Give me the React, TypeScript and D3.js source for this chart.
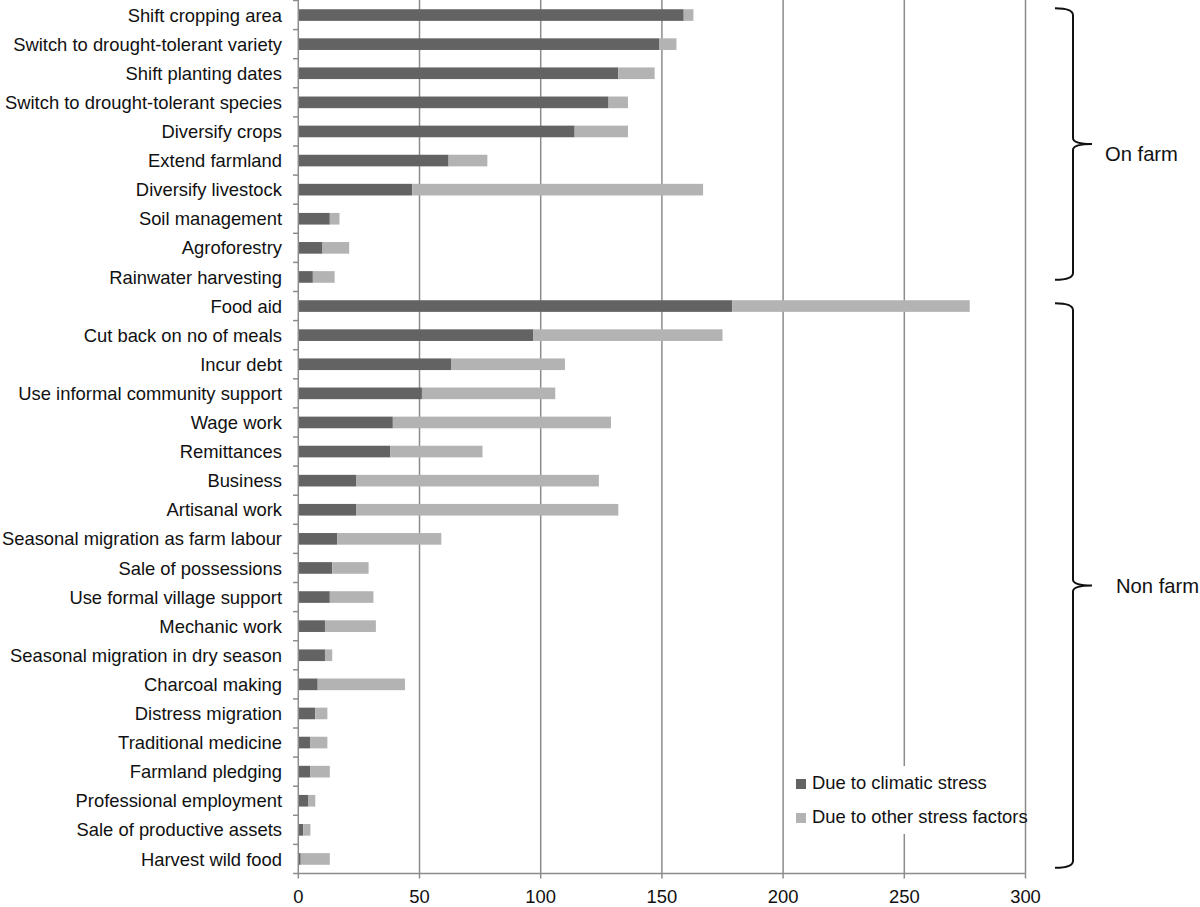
import React from "react";
import * as d3 from "d3";

const categories = [
  "Shift cropping area",
  "Switch to drought-tolerant variety",
  "Shift planting dates",
  "Switch to drought-tolerant species",
  "Diversify crops",
  "Extend farmland",
  "Diversify livestock",
  "Soil management",
  "Agroforestry",
  "Rainwater harvesting",
  "Food aid",
  "Cut back on no of meals",
  "Incur debt",
  "Use informal community support",
  "Wage work",
  "Remittances",
  "Business",
  "Artisanal work",
  "Seasonal migration as farm labour",
  "Sale of possessions",
  "Use formal village support",
  "Mechanic work",
  "Seasonal migration in dry season",
  "Charcoal making",
  "Distress migration",
  "Traditional medicine",
  "Farmland pledging",
  "Professional employment",
  "Sale of productive assets",
  "Harvest wild food",
];

const climatic = [159, 149, 132, 128, 114, 62, 47, 13, 10, 6, 179, 97, 63, 51, 39, 38, 24, 24, 16, 14, 13, 11, 11, 8, 7, 5, 5, 4, 2, 1];
const other = [4, 7, 15, 8, 22, 16, 120, 4, 11, 9, 98, 78, 47, 55, 90, 38, 100, 108, 43, 15, 18, 21, 3, 36, 5, 7, 8, 3, 3, 12];

const xTicks = [0, 50, 100, 150, 200, 250, 300];
const seriesNames = ["Due to climatic stress", "Due to other stress factors"];
const seriesColors = ["#636363", "#b3b3b3"];

const groups = [
  { label: "On farm", from: 0, to: 9 },
  { label: "Non farm", from: 10, to: 29 },
];

const FONT = "'Liberation Sans', Arial, Helvetica, sans-serif";
const FS = 18.4;

export default function App() {
  const x = d3.scaleLinear().domain([0, 300]).range([298.3, 1025.5]);
  const y = d3
    .scaleBand<string>()
    .domain(categories)
    .range([0.5, 873.5])
    .paddingInner(0.6)
    .paddingOuter(0.3);

  const rows = categories.map((c, i) => ({ cat: c, climatic: climatic[i], other: other[i] }));
  const stacked = d3.stack<any>().keys(["climatic", "other"])(rows);

  const step = y.step();
  const y0 = 0.5;
  const axisY = 873.5;
  const gridColor = "#8c8c8c";

  const bracePath = (ya: number, yb: number) => {
    const x0 = 1055;
    const xv = 1073;
    const xt = 1092;
    const ym = (ya + yb) / 2;
    return `M${x0},${ya} Q${xv},${ya} ${xv},${ya + 7} L${xv},${ym - 6} Q${xv},${ym} ${xt},${ym} Q${xv},${ym} ${xv},${ym + 6} L${xv},${yb - 7} Q${xv},${yb} ${x0},${yb}`;
  };

  // brace extents, based on the first and last bar of each group
  const braceOffsets = [
    [-1, -3],
    [3, 3],
  ];
  const braceY = (gi: number) => {
    const g = groups[gi];
    const a = (y(categories[g.from]) as number) + braceOffsets[gi][0];
    const b = (y(categories[g.to]) as number) + y.bandwidth() + braceOffsets[gi][1];
    return [a, b];
  };
  const labelX = [1105, 1116];
  const labelDy = [17, 7];

  return (
    <svg
      width={1200}
      height={907}
      style={{ position: "absolute", left: 0, top: 0, background: "#fff" }}
      fontFamily={FONT}
    >
      <rect x={0} y={0} width={1200} height={907} fill="#fff" />
      {/* gridlines */}
      {xTicks.slice(1).map((t) => (
        <line key={t} x1={x(t)} x2={x(t)} y1={0} y2={axisY} stroke={gridColor} strokeWidth={1.5} />
      ))}
      {/* bars */}
      {stacked.map((s, si) => (
        <g key={si} fill={seriesColors[si]}>
          {s.map((d, i) => (
            <rect
              key={i}
              x={x(d[0])}
              y={y(categories[i])}
              width={x(d[1]) - x(d[0])}
              height={y.bandwidth()}
            />
          ))}
        </g>
      ))}
      {/* y axis */}
      <line x1={x(0)} x2={x(0)} y1={0} y2={axisY} stroke={gridColor} strokeWidth={1.5} />
      {d3.range(categories.length + 1).map((k) => (
        <line key={k} x1={293} x2={x(0)} y1={y0 + k * step} y2={y0 + k * step} stroke={gridColor} strokeWidth={1.5} />
      ))}
      {categories.map((c) => (
        <text
          key={c}
          x={282}
          y={(y(c) as number) + y.bandwidth() / 2}
          dy="0.36em"
          textAnchor="end"
          fontSize={FS}
          fill="#111"
        >
          {c}
        </text>
      ))}
      {/* x axis */}
      <line x1={x(0)} x2={x(300)} y1={axisY} y2={axisY} stroke={gridColor} strokeWidth={1.5} />
      {xTicks.map((t) => (
        <g key={t}>
          <line x1={x(t)} x2={x(t)} y1={axisY} y2={axisY + 5} stroke={gridColor} strokeWidth={1.5} />
          <text x={x(t)} y={903} textAnchor="middle" fontSize={FS} fill="#111">
            {t}
          </text>
        </g>
      ))}
      {/* legend */}
      <rect x={790} y={766} width={228} height={68} fill="#fff" />
      {seriesNames.map((n, i) => (
        <g key={n}>
          <rect x={796} y={779 + i * 34} width={10} height={10} fill={seriesColors[i]} />
          <text x={812} y={789 + i * 34} fontSize={FS} fill="#111">
            {n}
          </text>
        </g>
      ))}
      {/* braces */}
      {groups.map((g, gi) => {
        const [a, b] = braceY(gi);
        const ym = (a + b) / 2;
        return (
          <g key={g.label}>
            <path d={bracePath(a, b)} fill="none" stroke="#111" strokeWidth={2} />
            <text x={labelX[gi]} y={ym + labelDy[gi]} fontSize={20.2} fill="#111">
              {g.label}
            </text>
          </g>
        );
      })}
    </svg>
  );
}
